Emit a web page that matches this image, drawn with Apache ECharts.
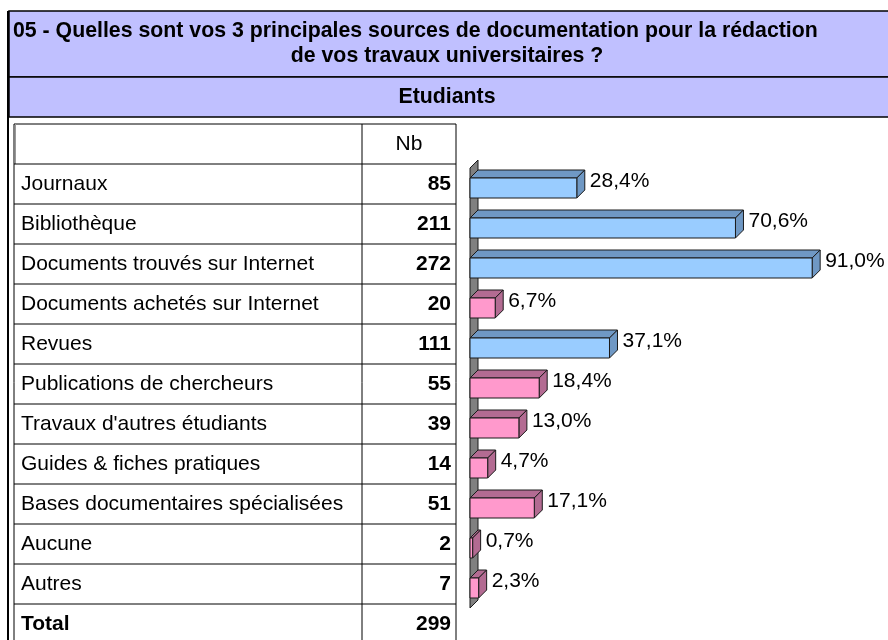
<!DOCTYPE html>
<html>
<head>
<meta charset="utf-8">
<script src="https://cdn.jsdelivr.net/npm/echarts@6/dist/echarts.min.js"></script>
<style>
  html, body { margin: 0; padding: 0; background: #fff; }
  #chart { width: 888px; height: 640px; }
</style>
</head>
<body>
<div id="chart"></div>
<script>
// données du tableau
var categories = [
    'Journaux', 'Bibliothèque', 'Documents trouvés sur Internet', 'Documents achetés sur Internet',
    'Revues', 'Publications de chercheurs', "Travaux d'autres étudiants", 'Guides & fiches pratiques',
    'Bases documentaires spécialisées', 'Aucune', 'Autres'
];
var counts = [85, 211, 272, 20, 111, 55, 39, 14, 51, 2, 7];
var percents = [28.4, 70.6, 91.0, 6.7, 37.1, 18.4, 13.0, 4.7, 17.1, 0.7, 2.3];
var total = 299;
var titleLines = [
    '05 - Quelles sont vos 3 principales sources de documentation pour la rédaction',
    'de vos travaux universitaires ?'
];
var groupName = 'Etudiants';

var FONT = '"Liberation Sans", Arial, sans-serif';
var DEPTH = 8;
var ROW_H = 40;
var TABLE_TOP = 124;

function fmt(v) {
    return v.toFixed(1).replace('.', ',') + '%';
}

//barres 3D
function renderBar(params, api) {
    var i = api.value(1);
    var v = api.value(0);
    var p0 = api.coord([0, i]);
    var p1 = api.coord([v, i]);
    var x0 = p0[0], x1 = p1[0];
    var yTop = p0[1] - 6, yBot = p0[1] + 14;
    var d = DEPTH;
    var high = v > 25;
    var front = high ? '#99CCFF' : '#FF99CC';
    var dark = high ? '#6F98C4' : '#B36B92';
    var stroke = '#1a1a1a';
    return {
        type: 'group',
        children: [
            {
                type: 'polygon',
                shape: { points: [[x0, yTop], [x0 + d, yTop - d], [x1 + d, yTop - d], [x1, yTop]] },
                style: { fill: dark, stroke: stroke, lineWidth: 1 }
            },
            {
                type: 'polygon',
                shape: { points: [[x1, yTop], [x1 + d, yTop - d], [x1 + d, yBot - d], [x1, yBot]] },
                style: { fill: dark, stroke: stroke, lineWidth: 1 }
            },
            {
                type: 'rect',
                shape: { x: x0, y: yTop, width: x1 - x0, height: yBot - yTop },
                style: { fill: front, stroke: stroke, lineWidth: 1 }
            },
            {
                type: 'text',
                x: x1 + d + 5,
                y: p0[1] - 3,
                style: {
                    text: fmt(v), fill: '#000', font: '21px ' + FONT,
                    verticalAlign: 'middle', align: 'left'
                }
            }
        ]
    };
}

//paroi grise
function renderWall(params, api) {
    var band = api.size([0, 1])[1];
    var first = api.coord([0, 0]);
    var last = api.coord([0, categories.length - 1]);
    var x = first[0];
    var top = first[1] - band / 2 + 4;
    var bot = last[1] + band / 2 + 4;
    return {
        type: 'polygon',
        shape: { points: [[x, top], [x + DEPTH, top - DEPTH], [x + DEPTH, bot - DEPTH], [x, bot]] },
        style: { fill: '#808080', stroke: '#1a1a1a', lineWidth: 1 }
    };
}

//tableau et bandeaux
function buildGraphics() {
    var g = [];
    g.push({ type: 'rect', shape: { x: 9, y: 11, width: 890, height: 66 },
        style: { fill: '#C0C0FF', stroke: '#000', lineWidth: 1.5 } });
    g.push({ type: 'rect', shape: { x: 9, y: 77, width: 890, height: 40 },
        style: { fill: '#C0C0FF', stroke: '#000', lineWidth: 1.5 } });
    g.push({ type: 'line', shape: { x1: 8, y1: 11, x2: 8, y2: 660 },
        style: { stroke: '#000', lineWidth: 2 } });
    g.push({ type: 'text', x: 13, y: 31,
        style: { text: titleLines[0], font: 'bold 21.3px ' + FONT, fill: '#000', verticalAlign: 'middle' } });
    g.push({ type: 'text', x: 447, y: 56,
        style: { text: titleLines[1], font: 'bold 21.3px ' + FONT, fill: '#000', align: 'center', verticalAlign: 'middle' } });
    g.push({ type: 'text', x: 447, y: 97,
        style: { text: groupName, font: 'bold 21.3px ' + FONT, fill: '#000', align: 'center', verticalAlign: 'middle' } });

    var nRows = categories.length + 2;
    g.push({ type: 'rect', shape: { x: 14, y: TABLE_TOP, width: 442, height: nRows * ROW_H },
        style: { fill: '#fff', stroke: '#000', lineWidth: 1 } });
    g.push({ type: 'line', shape: { x1: 15.5, y1: TABLE_TOP, x2: 15.5, y2: TABLE_TOP + ROW_H },
        style: { stroke: '#999', lineWidth: 1 } });
    g.push({ type: 'line', shape: { x1: 362, y1: TABLE_TOP, x2: 362, y2: TABLE_TOP + nRows * ROW_H },
        style: { stroke: '#000', lineWidth: 1 } });
    for (var r = 1; r < nRows; r++) {
        var yy = TABLE_TOP + r * ROW_H;
        g.push({ type: 'line', shape: { x1: 14, y1: yy, x2: 456, y2: yy },
            style: { stroke: '#000', lineWidth: 1 } });
    }
    g.push({ type: 'text', x: 409, y: TABLE_TOP + ROW_H / 2,
        style: { text: 'Nb', font: '21px ' + FONT, fill: '#000', align: 'center', verticalAlign: 'middle' } });
    var rows = categories.map(function (c, i) { return [c, counts[i], false]; });
    rows.push(['Total', total, true]);
    rows.forEach(function (row, i) {
        var cy = TABLE_TOP + (i + 1.5) * ROW_H;
        g.push({ type: 'text', x: 21, y: cy,
            style: { text: row[0], font: (row[2] ? 'bold ' : '') + '21px ' + FONT, fill: '#000', verticalAlign: 'middle' } });
        g.push({ type: 'text', x: 451, y: cy,
            style: { text: String(row[1]), font: 'bold 21px ' + FONT, fill: '#000', align: 'right', verticalAlign: 'middle' } });
    });
    return g;
}

var myChart = echarts.init(document.getElementById('chart'));
var option = {
    animation: false,
    backgroundColor: '#fff',
    grid: {
        left: 470,
        right: 42,
        top: TABLE_TOP + ROW_H,
        height: categories.length * ROW_H
    },
    xAxis: {
        type: 'value', min: 0, max: 100,
        show: false
    },
    yAxis: {
        type: 'category', data: categories, inverse: true,
        show: false
    },
    graphic: buildGraphics(),
    series: [
        {
            type: 'custom',
            renderItem: renderWall,
            data: [[0, 0]],
            z: 1
        },
        {
            type: 'custom',
            renderItem: renderBar,
            data: percents.map(function (v, i) { return [v, i]; }),
            encode: { x: 0, y: 1 },
            z: 2
        }
    ]
};
myChart.setOption(option);
</script>
</body>
</html>
